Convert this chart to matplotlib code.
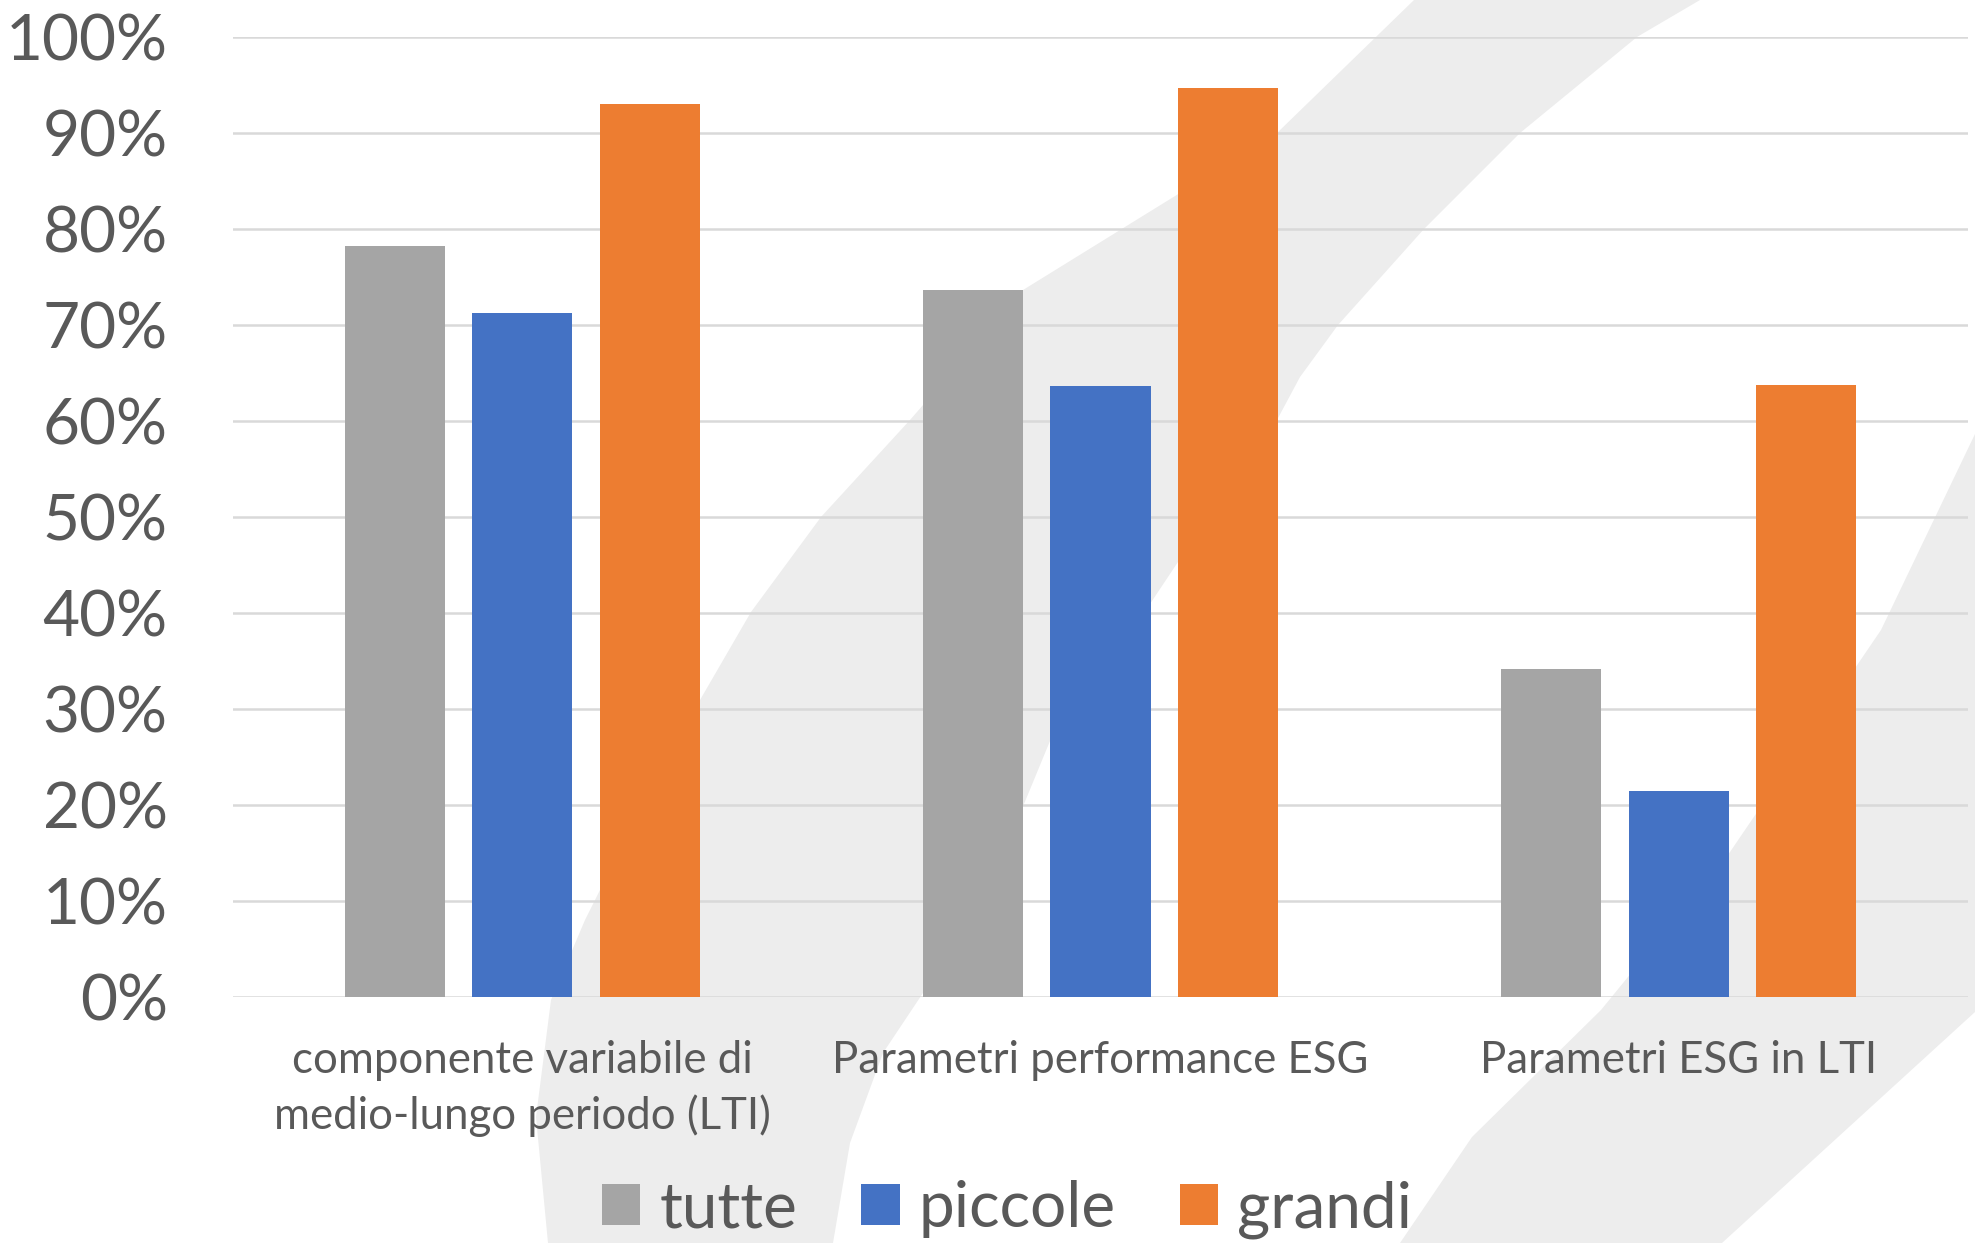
import numpy as np
import matplotlib
matplotlib.use('Agg')
import matplotlib.pyplot as plt
from matplotlib.patches import Polygon

# Daten
categories = ['componente variabile di\nmedio-lungo periodo (LTI)',
              'Parametri performance ESG',
              'Parametri ESG in LTI']
series = ['tutte', 'piccole', 'grandi']
tutte = [0.782, 0.736, 0.342]
piccole = [0.713, 0.636, 0.215]
grandi = [0.930, 0.947, 0.638]
y_ticks = [0, 0.1, 0.2, 0.3, 0.4, 0.5, 0.6, 0.7, 0.8, 0.9, 1.0]

colors = ['#A5A5A5', '#4472C4', '#ED7D31']
text_col = '#595959'

plt.rcParams['font.family'] = ['Lato', 'DejaVu Sans']

W, H = 1975, 1243
fig = plt.figure(figsize=(W / 100, H / 100), dpi=100)

# Hintergrund (helle Bogenform)
bg = fig.add_axes([0, 0, 1, 1], zorder=0)
bg.set_xlim(0, W)
bg.set_ylim(H, 0)
bg.axis('off')
band_a = [(1414, 0), (1277, 133), (1023, 290), (910, 420), (821, 517), (751, 612),
          (700, 700), (640, 810), (585, 920), (551, 1000), (536, 1117), (548, 1243),
          (833, 1243), (850, 1143), (883, 1053), (923, 993), (1024, 804), (1050, 741),
          (1152, 601), (1178, 562), (1277, 420), (1300, 377), (1338, 325), (1424, 229),
          (1520, 133), (1637, 37), (1700, 0)]
band_b = [(1975, 434), (1881, 630), (1730, 852), (1601, 1010), (1472, 1137),
          (1400, 1243), (1722, 1243), (1975, 1012)]
for b in (band_a, band_b):
    bg.add_patch(Polygon(b, closed=True, facecolor='#EDEDED', edgecolor='none'))

# Diagramm
ax = fig.add_axes([233 / W, 1 - 997 / H, (1968 - 233) / W, (997 - 37) / H], zorder=1)
ax.patch.set_alpha(0)

x = np.arange(len(categories))
w = 0.173
step = 0.2206
for i, (name, vals) in enumerate(zip(series, [tutte, piccole, grandi])):
    ax.bar(x + (i - 1) * step, vals, w, color=colors[i], label=name, zorder=3)

ax.set_xlim(-0.5, 2.5)
ax.set_ylim(0, 1)
ax.set_yticks(y_ticks)
ax.set_yticklabels([f'{int(round(t * 100))}%' for t in y_ticks])
ax.yaxis.grid(True, color='#D9D9D9', lw=1.8, zorder=1)
ax.set_axisbelow(True)
for s in ax.spines.values():
    s.set_visible(False)
ax.tick_params(axis='y', length=0, pad=47, labelsize=46, labelcolor=text_col)
ax.set_xticks(x)
ax.set_xticklabels(categories, linespacing=1.37)
ax.tick_params(axis='x', length=0, pad=31, labelsize=31.5, labelcolor=text_col)

fig.legend(loc='center', bbox_to_anchor=(0.51, 0.027), ncol=3, frameon=False,
           fontsize=46, labelcolor=text_col, handlelength=0.6, handleheight=0.6,
           handletextpad=0.3, columnspacing=1.0)

fig.savefig('out.png', dpi=100)
